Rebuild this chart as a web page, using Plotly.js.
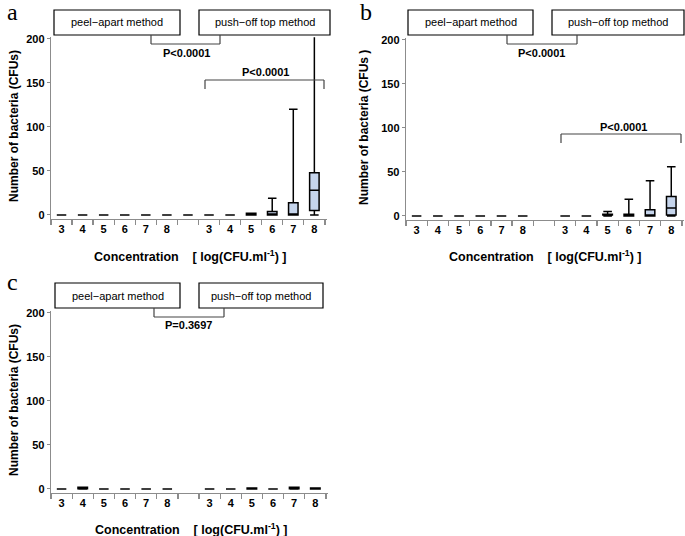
<!DOCTYPE html>
<html>
<head>
<meta charset="utf-8">
<script src="https://cdn.plot.ly/plotly-3.0.1.min.js"></script>
<style>html,body{margin:0;padding:0;background:#fff}#chart{width:685px;height:536px}</style>
</head>
<body>
<div id="chart"></div>
<script>
// Positions: 1-6 peel-apart (3..8), 7 gap, 8-13 push-off top (3..8)
var tickPos = [1,2,3,4,5,6,8,9,10,11,12,13];
var tickText = ["3","4","5","6","7","8","3","4","5","6","7","8"];

// Panel a
var aPos   = [1,2,3,4,5,6,7,8,9,10,11,12,13];
var aLow   = [0,0,0,0,0,0,0,0,0,0,0,0,0];
var aQ1    = [0,0,0,0,0,0,0,0,0,0,0,0,5];
var aMed   = [0,0,0,0,0,0,0,0,0,1,1,0,28];
var aQ3    = [0,0,0,0,0,0,0,0,0,2,4,14,48];
var aHigh  = [0,0,0,0,0,0,0,0,0,2,19,120,205];

// Panel b
var bPos   = [1,2,3,4,5,6,8,9,10,11,12,13];
var bLow   = [0,0,0,0,0,0,0,0,0,0,0,0];
var bQ1    = [0,0,0,0,0,0,0,0,1,0,0,1];
var bMed   = [0,0,0,0,0,0,0,0,1.5,1,1,9];
var bQ3    = [0,0,0,0,0,0,0,0,2,2,7,22];
var bHigh  = [0,0,0,0,0,0,0,0,5,19,40,56];

// Panel c
var cPos   = [1,2,3,4,5,6,8,9,10,11,12,13];
var cLow   = [0,0,0,0,0,0,0,0,0,0,0,0];
var cQ1    = [0,0.3,0,0,0,0,0,0,0,0,0.3,0];
var cMed   = [0,1,0,0,0,0,0,0,0.5,0,1,0.5];
var cQ3    = [0,2,0,0,0,0,0,0,1,0,2,1];
var cHigh  = [0,2,0,0,0,0,0,0,1,0,2,1];

var W = 685, H = 536;
function px(x){ return x / W; }
function py(y){ return 1 - y / H; }

var FONT = "Liberation Sans, Arial, sans-serif";
var boxStyle = {
  type: 'box', boxpoints: false, width: 0.45, whiskerwidth: 0.9,
  fillcolor: '#c6d5ec', line: {color: '#000', width: 1.5}, showlegend: false, hoverinfo: 'skip'
};
function mk(pos, lo, q1, med, q3, hi, xa, ya){
  return Object.assign({}, boxStyle, {x: pos, lowerfence: lo, q1: q1, median: med, q3: q3, upperfence: hi, xaxis: xa, yaxis: ya});
}
var data = [
  mk(aPos, aLow, aQ1, aMed, aQ3, aHigh, 'x', 'y'),
  mk(bPos, bLow, bQ1, bMed, bQ3, bHigh, 'x2', 'y2'),
  mk(cPos, cLow, cQ1, cMed, cQ3, cHigh, 'x3', 'y3')
];

function xax(d){
  return {
    domain: d, range: [0.5, 13.6], showgrid: false, zeroline: false,
    showline: true, linecolor: '#8c8c8c', linewidth: 1.3,
    tickvals: tickPos, ticktext: tickText, ticks: '',
    tickfont: {family: FONT, size: 11, color: '#000', weight: 'bold'},
    minor: {tick0: 0.5, dtick: 1, ticks: 'outside', ticklen: 5, tickcolor: '#8c8c8c', tickwidth: 1.3, showgrid: false},
    fixedrange: true
  };
}
function yax(d, anchor){
  return {
    domain: d, range: [-4, 202], showgrid: false, zeroline: false,
    showline: true, linecolor: '#8c8c8c', linewidth: 1.3,
    tickvals: [0,50,100,150,200], ticks: 'outside', ticklen: 3, tickcolor: '#8c8c8c',
    tickfont: {family: FONT, size: 11, color: '#000', weight: 'bold'},
    anchor: anchor, fixedrange: true
  };
}

var layout = {
  width: W, height: H, margin: {l:0, r:0, t:0, b:0},
  paper_bgcolor: '#fff', plot_bgcolor: 'rgba(0,0,0,0)', showlegend: false,
  xaxis:  Object.assign(xax([px(51), px(327)]), {anchor: 'y'}),
  yaxis:  yax([py(218.5), py(37.2)], 'x'),
  xaxis2: Object.assign(xax([px(406), px(684)]), {anchor: 'y2'}),
  yaxis2: yax([py(219.5), py(38.2)], 'x2'),
  xaxis3: Object.assign(xax([px(51), px(328)]), {anchor: 'y3'}),
  yaxis3: yax([py(492.5), py(311.2)], 'x3'),
  shapes: [], annotations: []
};

function rectPx(x0,y0,x1,y1){
  layout.shapes.push({type:'rect', xref:'paper', yref:'paper', x0:px(x0), x1:px(x1), y0:py(y1), y1:py(y0), line:{color:'#000', width:1.2}, fillcolor:'#fff'});
}
function linePx(x0,y0,x1,y1){
  layout.shapes.push({type:'line', xref:'paper', yref:'paper', x0:px(x0), x1:px(x1), y0:py(y0), y1:py(y1), line:{color:'#444', width:1.2}});
}
function textPx(x,y,t,opts){
  layout.annotations.push(Object.assign({xref:'paper', yref:'paper', x:px(x), y:py(y), text:t, showarrow:false,
    xanchor:'center', yanchor:'middle', font:{family:FONT, size:11, color:'#000', weight:'bold'}}, opts||{}));
}
function methodBoxes(xp0, xp1, xq0, xq1, y0, y1){
  rectPx(xp0, y0, xp1, y1);
  rectPx(xq0, y0, xq1, y1);
  textPx((xp0+xp1)/2, (y0+y1)/2, 'peel\u2212apart method', {font:{family:FONT, size:11, color:'#000'}});
  textPx((xq0+xq1)/2, (y0+y1)/2, 'push\u2212off top method', {font:{family:FONT, size:11, color:'#000'}});
}
function bracketDown(x0, x1, ytop, ybot){
  linePx(x0, ytop, x0, ybot); linePx(x0, ybot, x1, ybot); linePx(x1, ybot, x1, ytop);
}
function bracketUp(x0, x1, ytop, ylegs){
  linePx(x0, ylegs, x0, ytop); linePx(x0, ytop, x1, ytop); linePx(x1, ytop, x1, ylegs);
}

// Panel a
methodBoxes(54, 180, 199, 330, 10, 35);
bracketDown(151, 220, 35, 44);
textPx(186, 53, 'P&lt;0.0001');
bracketUp(205, 324, 80, 89);
textPx(265, 72, 'P&lt;0.0001');
// Panel b
methodBoxes(408, 533, 552, 684, 10, 35);
bracketDown(507, 577, 35, 44);
textPx(541, 53, 'P&lt;0.0001');
bracketUp(561, 681, 134, 143);
textPx(623, 127, 'P&lt;0.0001');
// Panel c
methodBoxes(55, 180, 199, 323, 283, 308);
bracketDown(154, 224, 308, 317);
textPx(188, 325, 'P=0.3697');

// Axis titles
var ttl = {family: FONT, size: 12, color: '#000', weight: 'bold'};
textPx(14, 126, 'Number of bacteria (CFUs)', {textangle: -90, font: ttl});
textPx(364, 128, 'Number of bacteria (CFUs )', {textangle: -90, font: ttl});
textPx(14, 400, 'Number of bacteria (CFUs)', {textangle: -90, font: ttl});
var xt = 'Concentration &nbsp; &nbsp;[ log(CFU.ml<sup>-1</sup>) ]';
var xtf = {family: FONT, size: 12.5, color: '#000', weight: 'bold'};
textPx(190, 256, xt, {font: xtf});
textPx(545, 256, xt, {font: xtf});
textPx(191, 529, xt, {font: xtf});

// Panel letters
var lf = {family: 'Liberation Serif, Times New Roman, serif', size: 24, color: '#000'};
textPx(12, 12, 'a', {font: lf});
textPx(366, 12, 'b', {font: lf});
textPx(12, 282, 'c', {font: lf});

Plotly.newPlot('chart', data, layout, {staticPlot: true, displayModeBar: false});
</script>
</body>
</html>
